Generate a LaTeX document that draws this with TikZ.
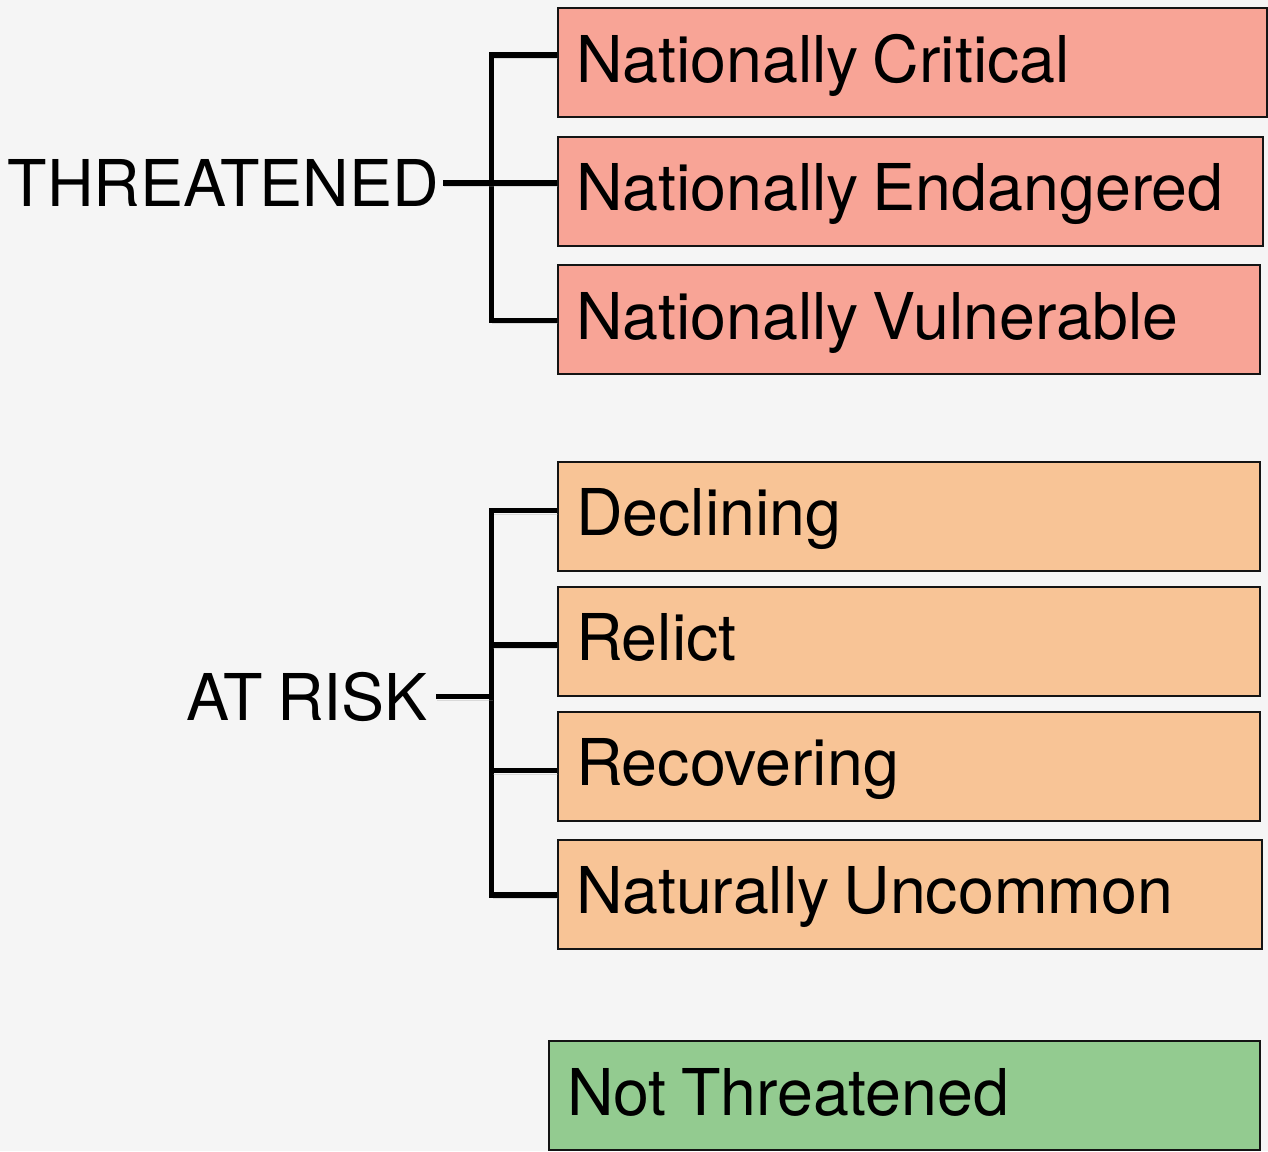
\documentclass[tikz,border=0pt]{standalone}
\usepackage{fontspec}
\setmainfont[WordSpace=0.8]{TeX Gyre Heros}
\usetikzlibrary{calc}
\definecolor{bg}{HTML}{F5F5F5}
\definecolor{redfill}{HTML}{F8A496}
\definecolor{orangefill}{HTML}{F8C496}
\definecolor{greenfill}{HTML}{93CB90}
\definecolor{boxline}{HTML}{141414}
\begin{document}
\begin{tikzpicture}[x=1pt,y=-1pt,
  box/.style={draw=boxline, line width=2pt, anchor=west, inner xsep=18pt, inner ysep=0pt,
    align=left, text height=47pt, text depth=8pt, minimum height=109pt,
    font=\fontsize{64.5}{72}\selectfont, execute at begin node={\spaceskip=0pt\relax}},
  conn/.style={line width=5.5pt, line join=miter, draw=black,
    preaction={draw=black!40, opacity=0.3, transform canvas={xshift=1pt,yshift=-3pt}}},
  lbl/.style={inner ysep=0pt, inner xsep=4pt, text height=47pt, text depth=0pt, anchor=east,
    font=\fontsize{64.5}{72}\selectfont}]
\fill[bg] (0,0) rectangle (1268,1151);
\useasboundingbox (0,0) rectangle (1268,1151);

% THREATENED group
\node[box, fill=redfill, minimum width=709pt, text width=673pt] (nc) at (557,62.5) {Nationally Critical};
\node[box, fill=redfill, minimum width=705pt, text width=669pt] (ne) at (557,191) {Nationally Endangered};
\node[box, fill=redfill, minimum width=702pt, text width=666pt] (nv) at (557,319.5) {Nationally Vulnerable};

\node[lbl] (thr) at (443,183) {THREATENED};
\coordinate (tj) at (491.5,183);

% AT RISK group
\node[box, fill=orangefill, minimum width=702pt, text width=666pt] (dec) at (557,516.4) {Declining};
\node[box, fill=orangefill, minimum width=702pt, text width=666pt] (rel) at (557,641.4) {Relict};
\node[box, fill=orangefill, minimum width=702pt, text width=666pt] (rec) at (557,766.4) {Recovering};
\node[box, fill=orangefill, minimum width=704pt, text width=668pt] (nu) at (557,894.2) {Naturally Uncommon};

\node[lbl, inner xsep=8pt] (ar) at (436,696.7) {AT RISK};
\coordinate (aj) at (491.7,696.7);

% Not Threatened
\node[box, fill=greenfill, minimum width=711pt, text width=675pt] (nt) at (548,1095.5) {Not Threatened};

% connectors THREATENED
\draw[conn] ([yshift=7.5pt]nc.west) -| (tj) |- ([yshift=-1pt]nv.west);
\draw[conn] (tj) -- ([yshift=8pt]ne.west);
\draw[conn] (thr.east) -- (tj);

% connectors AT RISK
\draw[conn] ([yshift=5.7pt]dec.west) -| (aj) |- ([yshift=-0.8pt]nu.west);
\draw[conn] (aj |- 0,645) -- ([yshift=-3.6pt]rel.west);
\draw[conn] (aj |- 0,770.7) -- ([yshift=-4.3pt]rec.west);
\draw[conn] (ar.east) -- (aj);
\end{tikzpicture}
\end{document}
